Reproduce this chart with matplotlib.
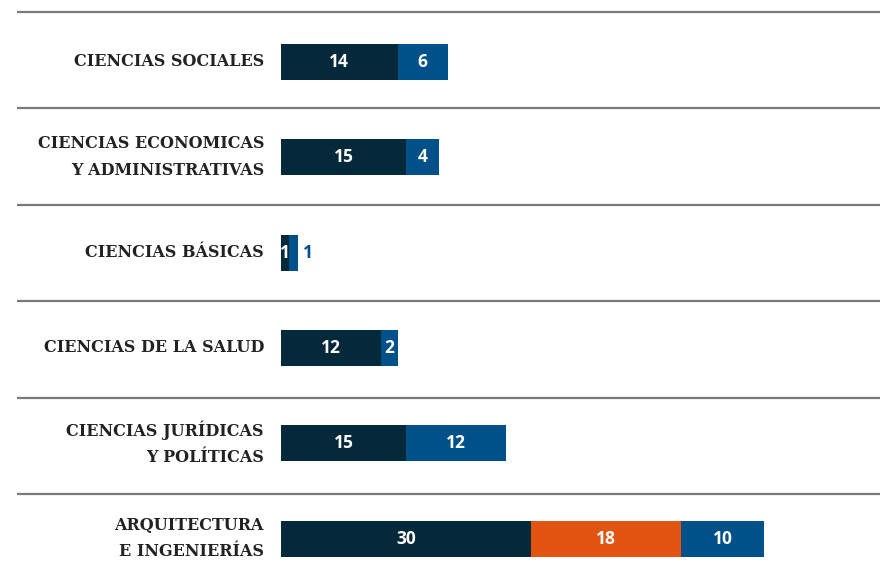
import matplotlib
matplotlib.use('Agg')
import matplotlib.pyplot as plt
import numpy as np

# Data (top to bottom)
categories = ["CIENCIAS SOCIALES",
              "CIENCIAS ECONOMICAS\nY ADMINISTRATIVAS",
              "CIENCIAS BÁSICAS",
              "CIENCIAS DE LA SALUD",
              "CIENCIAS JURÍDICAS\nY POLÍTICAS",
              "ARQUITECTURA\nE INGENIERÍAS"]
serie_a = [14, 15, 1, 12, 15, 30]
serie_b = [0, 0, 0, 0, 0, 18]
serie_c = [6, 4, 1, 2, 12, 10]

colors = ['#03293a', '#e25412', '#00508a']
series = [serie_a, serie_b, serie_c]

W, H = 880, 585
px = 8.33  # pixels per unit
x0 = 281   # pixel where bars start

fig = plt.figure(figsize=(W / 100, H / 100), dpi=100)
ax = fig.add_axes([0, 0, 1, 1])
ax.set_xlim(-x0 / px, (W - x0) / px)
ax.set_ylim(H, 0)
ax.axis('off')

n = len(categories)
y_bar = 62 + 95.3 * np.arange(n)
y_line = 12 + 96.4 * np.arange(n)

# separators
for yl in y_line:
    ax.plot([-(x0 - 17) / px, (W - x0) / px], [yl, yl], color='#7a7a7a', lw=1.6,
            solid_capstyle='butt')

left = np.zeros(n)
for k, (vals, col) in enumerate(zip(series, colors)):
    vals = np.array(vals, dtype=float)
    ax.barh(y_bar, vals, left=left, height=36, color=col, linewidth=0)
    for i, v in enumerate(vals):
        if v == 0:
            continue
        last = k == len(series) - 1
        if last and v < 1.5:
            # too narrow: label sits just outside the bar
            ax.text(left[i] + v + 0.6, y_bar[i], f"{int(v)}", ha='left', va='center',
                    color=col, fontsize=12.5, fontweight='bold', family='Open Sans')
        else:
            ax.text(left[i] + v / 2, y_bar[i], f"{int(v)}", ha='center', va='center',
                    color='white', fontsize=12.5, fontweight='bold', family='Open Sans')
    left += vals

for i, cat in enumerate(categories):
    ax.text(-17 / px, y_bar[i], cat, ha='right', va='center', multialignment='right',
            color='#222222', fontsize=11.5, fontweight='bold', family='DejaVu Serif',
            linespacing=1.75)

fig.savefig('out.png', dpi=100)
